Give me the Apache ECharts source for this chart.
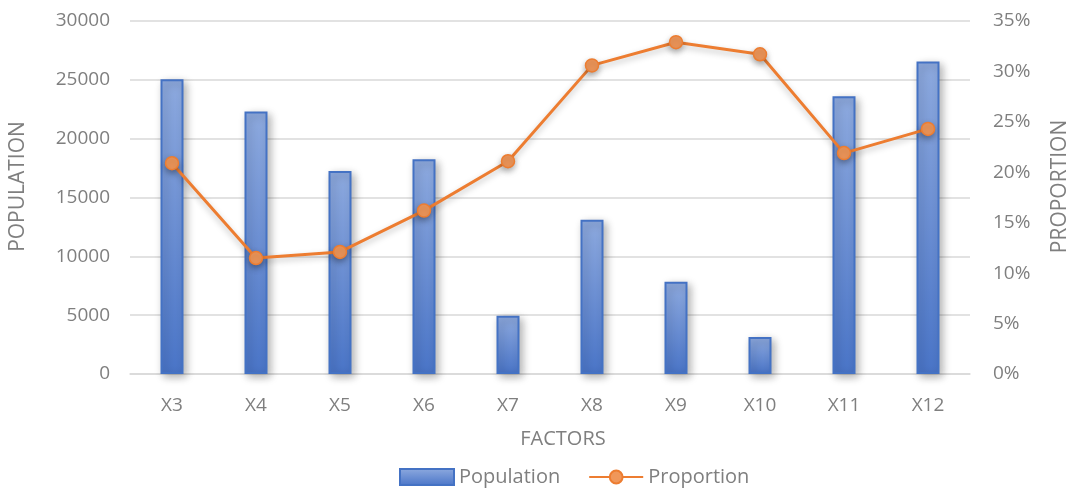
<!DOCTYPE html>
<html>
<head>
<meta charset="utf-8">
<script src="https://cdn.jsdelivr.net/npm/echarts@6/dist/echarts.min.js"></script>
<style>
  html, body { margin: 0; padding: 0; background: #fff; }
  #chart { width: 1073px; height: 490px; }
</style>
</head>
<body>
<div id="chart"></div>
<script>
// Data
const factors = ["X3", "X4", "X5", "X6", "X7", "X8", "X9", "X10", "X11", "X12"];
const population = [25050, 22300, 17250, 18250, 4950, 13100, 7850, 3150, 23600, 26550];
const proportion = [20.9, 11.5, 12.1, 16.2, 21.1, 30.6, 32.9, 31.7, 21.9, 24.3];

const gray = "#7f7f7f";
const font = "Open Sans";

const chart = echarts.init(document.getElementById("chart"));

const option = {
  animation: false,
  textStyle: { fontFamily: font },
  grid: { left: 130, right: 103, top: 21, bottom: 116, outerBoundsMode: "none" },
  legend: {
    top: 462,
    left: 394,
    itemGap: 28,
    itemWidth: 54,
    itemHeight: 16,
    textStyle: { color: gray, fontSize: 20, fontFamily: font },
    data: [
      { name: "Population", icon: "rect" },
      { name: "Proportion" }
    ]
  },
  xAxis: {
    type: "category",
    data: factors,
    name: "FACTORS",
    nameLocation: "middle",
    nameGap: 55,
    nameTextStyle: { color: gray, fontSize: 20, padding: [0, 0, 0, 26] },
    axisLine: { lineStyle: { color: "#d9d9d9", width: 1.5 } },
    axisTick: { show: false },
    axisLabel: { color: gray, fontSize: 19, margin: 22 }
  },
  yAxis: [
    {
      type: "value",
      min: 0,
      max: 30000,
      interval: 5000,
      name: "POPULATION",
      nameLocation: "middle",
      nameGap: 112,
      nameRotate: 90,
      nameTextStyle: { color: gray, fontSize: 21, verticalAlign: "middle", padding: [0, 0, 0, 22] },
      axisLine: { show: false },
      axisTick: { show: false },
      axisLabel: {
        color: gray,
        fontSize: 19,
        margin: 20,
        formatter: (v) => String(v)
      },
      splitLine: { lineStyle: { color: "#d9d9d9", width: 1.5 } }
    },
    {
      type: "value",
      min: 0,
      max: 35,
      interval: 5,
      name: "PROPORTION",
      nameLocation: "middle",
      nameGap: 90,
      nameRotate: 90,
      nameTextStyle: { color: gray, fontSize: 21, verticalAlign: "middle", padding: [0, 0, 0, 22] },
      axisLine: { show: false },
      axisTick: { show: false },
      axisLabel: { color: gray, fontSize: 19, margin: 23, formatter: "{value}%" },
      splitLine: { show: false }
    }
  ],
  series: [
    {
      name: "Population",
      type: "bar",
      data: population,
      barWidth: 23,
      yAxisIndex: 0,
      itemStyle: {
        color: new echarts.graphic.LinearGradient(0, 0, 0, 1, [
          { offset: 0, color: "#8eaadf" },
          { offset: 1, color: "#4a75c8" }
        ]),
        borderColor: "#4472c4",
        borderWidth: 2,
        shadowColor: "rgba(0,0,0,0.3)",
        shadowBlur: 8,
        shadowOffsetX: 3,
        shadowOffsetY: 3
      }
    },
    {
      name: "Proportion",
      type: "line",
      data: proportion,
      yAxisIndex: 1,
      symbol: "circle",
      symbolSize: 13,
      lineStyle: {
        color: "#ed7d31",
        width: 3,
        shadowColor: "rgba(0,0,0,0.25)",
        shadowBlur: 6,
        shadowOffsetY: 3
      },
      itemStyle: {
        color: "#f0975a",
        borderColor: "#ed7d31",
        borderWidth: 1.5,
        shadowColor: "rgba(0,0,0,0.3)",
        shadowBlur: 6,
        shadowOffsetY: 3
      }
    }
  ]
};

chart.setOption(option);
</script>
</body>
</html>
